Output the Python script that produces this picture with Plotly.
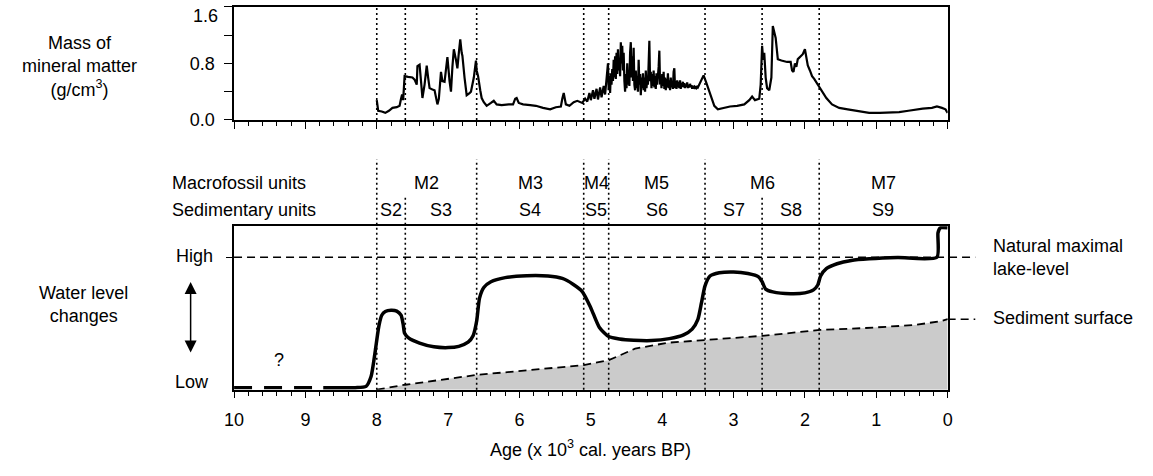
import plotly.graph_objects as go

W, H = 1153, 476
FONT = "Liberation Sans, Arial, sans-serif"

# ---------------- data ----------------
# Mass of mineral matter (g/cm3) vs age (x1000 cal. yr BP): early part (8.0-4.8 ka)
mm_age_a = [8.00, 7.98, 7.93, 7.88, 7.83, 7.78, 7.72, 7.68, 7.66, 7.645, 7.63, 7.61, 7.56, 7.50, 7.47,
            7.44, 7.43, 7.40, 7.38, 7.36, 7.33, 7.30, 7.28, 7.26, 7.22, 7.19, 7.15, 7.13, 7.10, 7.08,
            7.05, 7.03, 7.01, 6.98, 6.96, 6.94, 6.92, 6.89, 6.87, 6.85, 6.83, 6.81, 6.80, 6.77, 6.74,
            6.70, 6.68, 6.64, 6.61, 6.60, 6.58, 6.55, 6.53, 6.50, 6.46, 6.40, 6.36, 6.32, 6.25, 6.15,
            6.09, 6.06, 6.04, 6.01, 5.95, 5.85, 5.77, 5.67, 5.57, 5.49, 5.42, 5.40, 5.38, 5.35, 5.30,
            5.24, 5.19, 5.12, 5.08, 5.05, 5.02, 5.00, 4.97, 4.95, 4.92, 4.90, 4.87, 4.85, 4.82, 4.80]
mm_val_a = [0.28, 0.13, 0.12, 0.10, 0.13, 0.17, 0.18, 0.20, 0.30, 0.36, 0.28, 0.62, 0.61, 0.60, 0.57,
            0.50, 0.76, 0.78, 0.55, 0.31, 0.50, 0.77, 0.60, 0.45, 0.43, 0.42, 0.22, 0.30, 0.68, 0.55,
            0.54, 0.75, 0.89, 0.55, 0.40, 0.75, 1.00, 0.85, 0.73, 0.95, 1.14, 0.95, 0.91, 0.60, 0.35,
            0.38, 0.40, 0.60, 0.84, 0.70, 0.62, 0.42, 0.31, 0.25, 0.20, 0.24, 0.27, 0.22, 0.21, 0.22,
            0.22, 0.30, 0.31, 0.24, 0.22, 0.21, 0.20, 0.17, 0.15, 0.18, 0.19, 0.30, 0.38, 0.22, 0.20,
            0.25, 0.27, 0.24, 0.30, 0.26, 0.38, 0.28, 0.42, 0.30, 0.44, 0.29, 0.46, 0.32, 0.48, 0.36]
# dense, highly variable part (4.78-3.46 ka, every 10 years)
mm_age_b = [4.78, 4.77, 4.76, 4.75, 4.74, 4.73, 4.72, 4.71, 4.70, 4.69, 4.68, 4.67, 4.66, 4.65, 4.64,
            4.63, 4.62, 4.61, 4.60, 4.59, 4.58, 4.57, 4.56, 4.55, 4.54, 4.53, 4.52, 4.51, 4.50, 4.49,
            4.48, 4.47, 4.46, 4.45, 4.44, 4.43, 4.42, 4.41, 4.40, 4.39, 4.38, 4.37, 4.36, 4.35, 4.34,
            4.33, 4.32, 4.31, 4.30, 4.29, 4.28, 4.27, 4.26, 4.25, 4.24, 4.23, 4.22, 4.21, 4.20, 4.19,
            4.18, 4.17, 4.16, 4.15, 4.14, 4.13, 4.12, 4.11, 4.10, 4.09, 4.08, 4.07, 4.06, 4.05, 4.04,
            4.03, 4.02, 4.01, 4.00, 3.99, 3.98, 3.97, 3.96, 3.95, 3.94, 3.93, 3.92, 3.91, 3.90, 3.89,
            3.88, 3.87, 3.86, 3.85, 3.84, 3.83, 3.82, 3.81, 3.80, 3.79, 3.78, 3.77, 3.76, 3.75, 3.74,
            3.73, 3.72, 3.71, 3.70, 3.69, 3.68, 3.67, 3.66, 3.65, 3.64, 3.63, 3.62, 3.61, 3.60, 3.59,
            3.58, 3.57, 3.56, 3.55, 3.54, 3.53, 3.52, 3.51, 3.50, 3.49, 3.48, 3.47, 3.46]
mm_val_b = [0.55, 0.70, 0.80, 0.42, 0.62, 0.38, 0.66, 0.50, 0.72, 0.55, 0.85, 0.60, 0.90, 0.58, 0.95,
            0.65, 1.00, 0.70, 0.88, 0.62, 1.10, 0.80, 1.05, 0.70, 0.95, 0.55, 0.40, 0.65, 0.45, 0.80,
            0.50, 0.70, 0.48, 0.95, 1.10, 0.60, 0.90, 0.55, 1.02, 0.50, 0.42, 0.70, 0.45, 0.62, 0.40,
            0.85, 0.50, 0.65, 0.35, 0.60, 0.45, 0.66, 0.42, 0.60, 0.40, 0.70, 0.45, 0.58, 0.50, 0.80,
            1.12, 0.55, 0.68, 0.45, 0.65, 0.48, 0.70, 0.46, 0.62, 0.44, 0.66, 0.50, 0.60, 0.75, 0.98,
            0.50, 0.62, 0.45, 0.65, 0.48, 0.68, 0.44, 0.60, 0.42, 0.58, 0.46, 0.66, 0.45, 0.56, 0.42,
            0.60, 0.46, 0.52, 0.44, 0.68, 0.73, 0.45, 0.55, 0.44, 0.56, 0.46, 0.54, 0.45, 0.56, 0.44,
            0.52, 0.47, 0.54, 0.46, 0.52, 0.45, 0.50, 0.47, 0.53, 0.45, 0.50, 0.46, 0.51, 0.47, 0.49,
            0.44, 0.48, 0.46, 0.47, 0.44, 0.46, 0.45, 0.47, 0.46, 0.48, 0.50, 0.52, 0.55]
# late part (3.45-0 ka)
mm_age_c = [3.45, 3.42, 3.38, 3.32, 3.27, 3.22, 3.15, 3.05, 2.95, 2.85, 2.78, 2.74, 2.70, 2.64, 2.62,
            2.60, 2.585, 2.57, 2.55, 2.53, 2.50, 2.47, 2.45, 2.43, 2.41, 2.38, 2.33, 2.25, 2.20, 2.18,
            2.16, 2.14, 2.12, 2.10, 2.06, 2.03, 2.00, 1.98, 1.96, 1.93, 1.90, 1.87, 1.82, 1.80, 1.75,
            1.70, 1.62, 1.52, 1.40, 1.25, 1.10, 0.95, 0.80, 0.68, 0.55, 0.45, 0.35, 0.22, 0.15, 0.08,
            0.03, 0.00]
mm_val_c = [0.58, 0.63, 0.52, 0.35, 0.20, 0.15, 0.17, 0.19, 0.20, 0.22, 0.28, 0.33, 0.28, 0.30, 0.50,
            1.05, 0.85, 0.95, 0.60, 0.45, 0.42, 0.60, 1.33, 1.25, 1.16, 0.86, 0.84, 0.82, 0.82, 0.70,
            0.68, 0.80, 0.75, 0.86, 0.90, 0.93, 1.00, 0.85, 0.77, 0.70, 0.62, 0.58, 0.50, 0.45, 0.38,
            0.31, 0.22, 0.17, 0.15, 0.12, 0.10, 0.10, 0.10, 0.11, 0.13, 0.15, 0.16, 0.17, 0.19, 0.17,
            0.15, 0.10]
mm_age = mm_age_a + mm_age_b + mm_age_c
mm_val = mm_val_a + mm_val_b + mm_val_c

# Water level (relative scale: 0 = low, 10 = top of frame), uncertain early part dashed
wl_unc_age = [10.0, 8.75]
wl_unc_val = [0.12, 0.12]
wl_age = [8.75, 8.3, 8.15, 8.08, 8.02, 7.97, 7.93, 7.88, 7.8, 7.72, 7.66, 7.63, 7.61, 7.55, 7.4,
          7.2, 7.0, 6.85, 6.72, 6.65, 6.6, 6.56, 6.5, 6.4, 6.2, 5.9, 5.6, 5.4, 5.25, 5.12,
          5.0, 4.88, 4.75, 4.6, 4.4, 4.15, 3.9, 3.7, 3.58, 3.5, 3.45, 3.4, 3.33, 3.2, 3.0,
          2.8, 2.65, 2.6, 2.55, 2.45, 2.2, 2.0, 1.88, 1.82, 1.78, 1.7, 1.55, 1.35, 1.1, 0.7,
          0.15, 0.135, 0.1, 0.0]
wl_val = [0.12, 0.12, 0.2, 0.8, 2.4, 3.9, 4.55, 4.78, 4.85, 4.8, 4.55, 4.0, 3.45, 3.15, 2.85,
          2.62, 2.57, 2.65, 2.9, 3.3, 4.2, 5.6, 6.25, 6.6, 6.85, 6.97, 6.95, 6.8, 6.45, 6.0,
          5.0, 3.8, 3.25, 3.1, 3.02, 3.0, 3.12, 3.35, 3.7, 4.3, 5.3, 6.35, 6.95, 7.15, 7.2,
          7.1, 6.9, 6.6, 6.15, 5.98, 5.87, 5.92, 6.1, 6.4, 6.95, 7.4, 7.7, 7.9, 8.0, 8.08,
          8.1, 9.6, 9.9, 9.9]
high_level = 8.1

# Sediment surface
sed_age = [8.0, 7.6, 6.6, 5.1, 4.75, 4.38, 3.92, 3.4, 2.6, 1.79, 1.15, 0.46, 0.1, 0.0]
sed_val = [0.0, 0.30, 0.90, 1.50, 1.80, 2.51, 2.87, 3.05, 3.29, 3.65, 3.77, 3.95, 4.19, 4.31]

# Unit boundaries and labels
macro_bounds = [8.0, 6.6, 5.1, 4.75, 3.4, 1.8, 0.0]
macro_labels = ["M2", "M3", "M4", "M5", "M6", "M7"]
sed_bounds = [8.0, 7.6, 6.6, 5.1, 4.75, 3.4, 2.6, 1.8, 0.0]
sed_labels = ["S2", "S3", "S4", "S5", "S6", "S7", "S8", "S9"]

x_ticks = list(range(10, -1, -1))
mm_ticks = [0.0, 0.4, 0.8, 1.2, 1.6]
mm_ticktext = ["0.0", "", "0.8", "", ""]
mm_top_label = "1.6"

# ---------------- layout helpers ----------------
def px_x(p):
    return p / W

def px_y(p):
    return 1 - p / H

X0, X1 = 227, 950
TOP_T, TOP_B = 7, 122.5
BOT_T, BOT_B = 231, 398

fig = go.Figure()

fig.add_trace(go.Scatter(x=mm_age, y=mm_val, mode="lines", xaxis="x", yaxis="y",
                         line=dict(color="black", width=2.2), showlegend=False, hoverinfo="skip"))

fig.add_trace(go.Scatter(x=sed_age, y=sed_val, mode="lines", xaxis="x2", yaxis="y2",
                         fill="tozeroy", fillcolor="#cbcbcb",
                         line=dict(color="black", width=1.8, dash="8px,5px"),
                         showlegend=False, hoverinfo="skip"))

fig.add_trace(go.Scatter(x=wl_unc_age, y=wl_unc_val, mode="lines", xaxis="x2", yaxis="y2",
                         line=dict(color="black", width=3.2, dash="18px,12px"),
                         showlegend=False, hoverinfo="skip"))
fig.add_trace(go.Scatter(x=wl_age, y=wl_val, mode="lines", xaxis="x2", yaxis="y2",
                         line=dict(color="black", width=3.5, shape="spline", smoothing=0.6),
                         showlegend=False, hoverinfo="skip"))

shapes = []
dot = dict(color="black", width=1.6, dash="2px,3px")
inner_bounds = sed_bounds[:-1]
for b in inner_bounds:
    shapes.append(dict(type="line", xref="x", yref="paper", x0=b, x1=b,
                       y0=px_y(TOP_B), y1=px_y(TOP_T), line=dot, layer="above"))
    top_px = 163 if b in macro_bounds else 200
    shapes.append(dict(type="line", xref="x2", yref="paper", x0=b, x1=b,
                       y0=px_y(BOT_B), y1=px_y(top_px), line=dot, layer="above"))
# natural maximal lake level line (extends beyond the frame)
shapes.append(dict(type="line", xref="paper", yref="y2", x0=px_x(X0), x1=px_x(978),
                   y0=high_level, y1=high_level,
                   line=dict(color="black", width=1.5, dash="8px,5px")))
# sediment surface extension
shapes.append(dict(type="line", xref="paper", yref="y2", x0=px_x(X1), x1=px_x(978),
                   y0=sed_val[-1], y1=sed_val[-1],
                   line=dict(color="black", width=1.5, dash="8px,5px")))

ann = []
f18 = dict(family=FONT, size=18, color="black")
for i, lab in enumerate(macro_labels):
    mid = (macro_bounds[i] + macro_bounds[i + 1]) / 2
    ann.append(dict(x=mid, y=px_y(187), xref="x2", yref="paper", text=lab, showarrow=False,
                    font=f18, xanchor="center", yanchor="middle"))
for i, lab in enumerate(sed_labels):
    mid = (sed_bounds[i] + sed_bounds[i + 1]) / 2
    ann.append(dict(x=mid, y=px_y(215), xref="x2", yref="paper", text=lab, showarrow=False,
                    font=f18, xanchor="center", yanchor="middle"))

def txt(x, y, t, xa="left", align="left"):
    ann.append(dict(x=px_x(x), y=px_y(y), xref="paper", yref="paper", text=t, showarrow=False,
                    font=f18, xanchor=xa, yanchor="middle", align=align))

txt(162, 187, "Macrofossil units")
txt(162, 215, "Sedimentary units")
txt(70, 68, "Mass of<br>mineral matter<br>(g/cm<sup>3</sup>)", xa="center", align="center")
txt(74, 311, "Water level<br>changes", xa="center", align="center")
txt(208, 262, "High", xa="right")
txt(204, 390, "Low", xa="right")
txt(213, 16, mm_top_label, xa="right")
txt(994, 263, "Natural maximal<br>lake-level")
txt(994, 325, "Sediment surface")
txt(588, 458, "Age (x 10<sup>3</sup> cal. years BP)", xa="center", align="center")
ann.append(dict(x=9.37, y=1.1, xref="x2", yref="y2", text="?", showarrow=False, font=f18,
                xanchor="center", yanchor="bottom"))
# double-headed arrow
ann.append(dict(x=px_x(183), y=px_y(288), xref="paper", yref="paper", text="",
                showarrow=True, axref="pixel", ayref="pixel", ax=0, ay=72,
                arrowside="end+start", arrowhead=2, arrowsize=1.6, arrowwidth=1.5,
                arrowcolor="black", standoff=0, startstandoff=0, startarrowhead=2,
                startarrowsize=1.6))

axis_common = dict(showgrid=False, zeroline=False, showline=True, linecolor="black",
                   linewidth=1.5, mirror=True, ticks="outside", tickcolor="black",
                   tickwidth=1.2, tickfont=f18)

fig.update_layout(
    width=W, height=H, margin=dict(l=0, r=0, t=0, b=0),
    paper_bgcolor="white", plot_bgcolor="white",
    font=f18, showlegend=False,
    xaxis=dict(axis_common, domain=[px_x(X0), px_x(X1)], range=[10, 0], anchor="y",
               tickvals=x_ticks, showticklabels=False, ticklen=7,
               minor=dict(dtick=0.2, ticklen=4, ticks="outside", tickcolor="black", tickwidth=1.2)),
    yaxis=dict(axis_common, domain=[px_y(TOP_B), px_y(TOP_T)], range=[0, 1.6], anchor="x",
               tickvals=mm_ticks, ticktext=mm_ticktext, ticklen=8,
               ticklabelstandoff=6),
    xaxis2=dict(axis_common, domain=[px_x(X0), px_x(X1)], range=[10, 0], anchor="y2",
                tickvals=x_ticks, ticktext=[str(t) for t in x_ticks], ticklen=7,
                ticklabelstandoff=6,
                minor=dict(dtick=0.2, ticklen=5, ticks="outside", tickcolor="black", tickwidth=1.2)),
    yaxis2=dict(axis_common, domain=[px_y(BOT_B), px_y(BOT_T)], range=[0, 10], anchor="x2",
                tickvals=[high_level], showticklabels=False, ticklen=6),
    shapes=shapes, annotations=ann,
)

fig.write_html("out.html")
